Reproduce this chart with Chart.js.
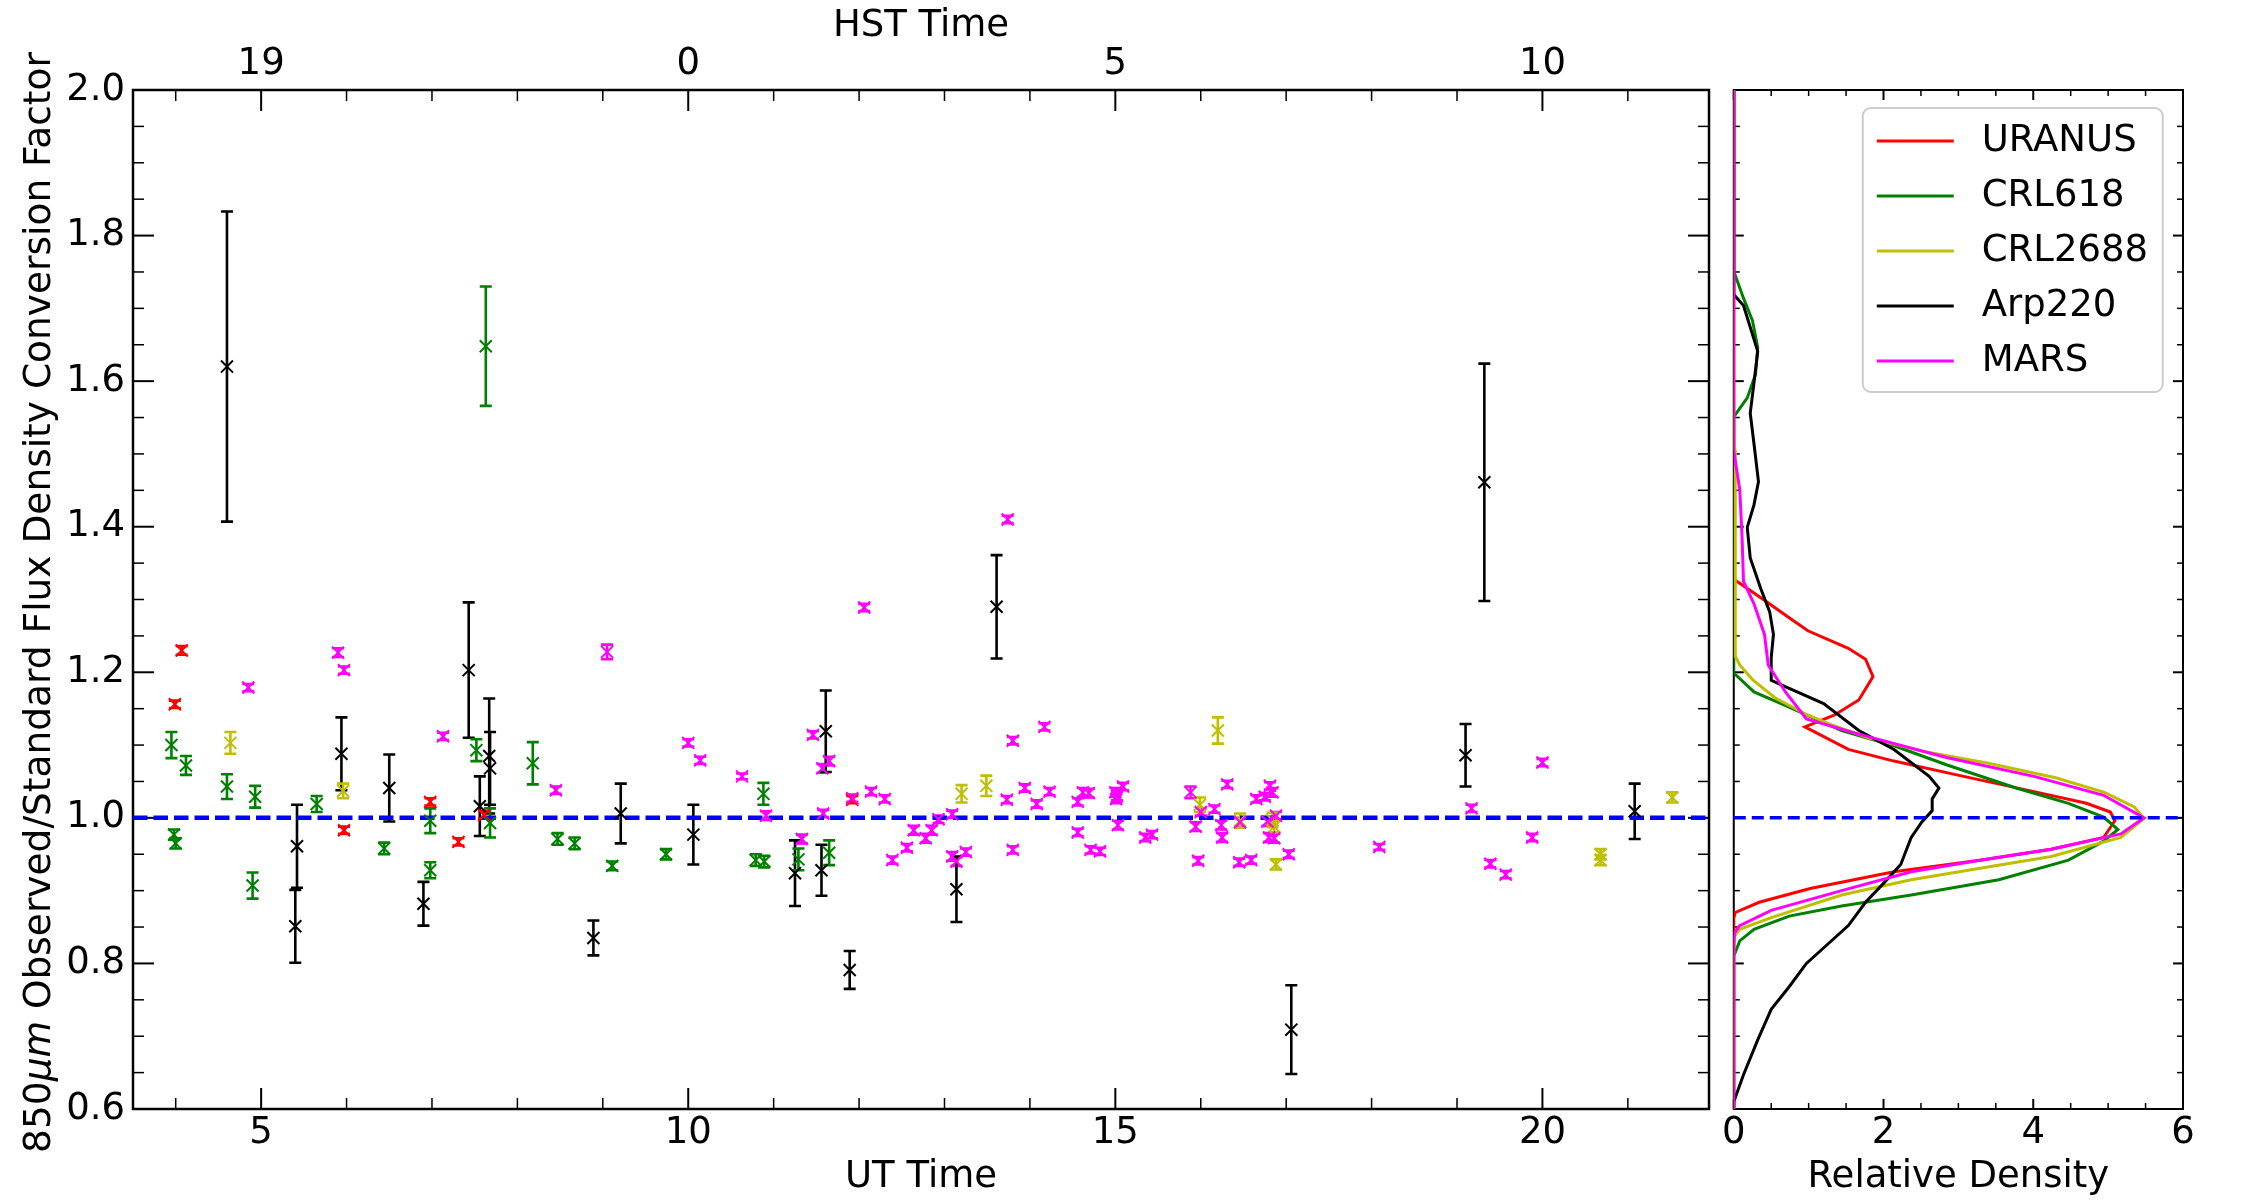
<!DOCTYPE html>
<html>
<head>
<meta charset="utf-8">
<script src="https://cdn.jsdelivr.net/npm/chart.js@4.4.1/dist/chart.umd.min.js"></script>
<style>
  body { margin: 0; background: #fff; }
  #wrap { position: relative; width: 2250px; height: 1200px; }
  canvas { position: absolute; top: 0; }
  #main { left: 0; }
  #kde { left: 1720px; }
</style>
</head>
<body>
<div id="wrap">
  <canvas id="main" width="1720" height="1200"></canvas>
  <canvas id="kde" width="530" height="1200"></canvas>
</div>
<script>
// --- observations: UT hour, observed/standard FCF, error ---
const uranusUT  = [3.99, 4.07, 5.97, 6.98, 7.31, 7.61, 11.92];
const uranusFCF = [1.156, 1.230, 0.983, 1.022, 0.967, 1.004, 1.025];
const uranusErr = [0.005, 0.006, 0.005, 0.005, 0.005, 0.005, 0.005];

const crl618UT  = [3.95, 3.98, 4.00, 4.12, 4.60, 4.90, 4.93, 5.65, 6.44, 6.98, 6.98, 7.52, 7.63, 7.68, 8.18, 8.47, 8.67, 9.11, 9.74, 10.79, 10.88, 10.89, 11.29, 11.65];
const crl618FCF = [1.100, 0.977, 0.965, 1.072, 1.043, 0.907, 1.029, 1.019, 0.958, 0.996, 0.928, 1.093, 1.648, 0.993, 1.075, 0.971, 0.965, 0.934, 0.950, 0.942, 1.033, 0.940, 0.943, 0.952];
const crl618Err = [0.018, 0.007, 0.007, 0.013, 0.017, 0.018, 0.015, 0.011, 0.008, 0.017, 0.011, 0.015, 0.082, 0.020, 0.029, 0.008, 0.008, 0.006, 0.007, 0.008, 0.015, 0.008, 0.015, 0.017];

const crl2688UT  = [4.64, 5.96, 13.20, 13.49, 15.99, 16.20, 16.46, 16.84, 16.86, 16.88, 20.68, 20.68, 21.52];
const crl2688FCF = [1.103, 1.037, 1.033, 1.044, 1.018, 1.120, 0.996, 0.997, 0.988, 0.936, 0.950, 0.942, 1.028];
const crl2688Err = [0.015, 0.010, 0.012, 0.014, 0.010, 0.018, 0.010, 0.010, 0.008, 0.007, 0.007, 0.007, 0.007];

const arp220UT  = [4.60, 5.40, 5.42, 5.94, 6.50, 6.90, 7.43, 7.56, 7.67, 7.68, 8.89, 9.21, 10.06, 11.25, 11.56, 11.61, 11.89, 13.14, 13.61, 17.06, 19.10, 19.32, 21.08];
const arp220FCF = [1.620, 0.851, 0.961, 1.088, 1.041, 0.882, 1.203, 1.016, 1.085, 1.068, 0.835, 1.006, 0.977, 0.924, 0.928, 1.119, 0.791, 0.902, 1.290, 0.709, 1.086, 1.461, 1.009];
const arp220Err = [0.213, 0.050, 0.057, 0.050, 0.046, 0.030, 0.093, 0.041, 0.079, 0.050, 0.024, 0.041, 0.041, 0.045, 0.035, 0.056, 0.026, 0.045, 0.071, 0.061, 0.043, 0.163, 0.038];

const marsUT  = [4.85, 5.90, 5.97, 7.13, 8.45, 9.05, 10.00, 10.14, 10.63, 10.91, 11.33, 11.46, 11.57, 11.65, 11.58, 11.92, 12.06, 12.14, 12.30, 12.39,
                 12.56, 12.64, 12.78, 12.85, 12.93, 13.09, 13.09, 13.14, 13.25, 13.73, 13.74, 13.80, 13.80, 13.94, 14.08, 14.17, 14.23, 14.56, 14.56, 14.62,
                 14.69, 14.71, 14.82, 15.00, 15.01, 15.02, 15.09, 15.03, 15.35, 15.43, 15.88, 15.94, 15.97, 16.00, 16.16, 16.24, 16.25, 16.31, 16.46, 16.45,
                 16.59, 16.65, 16.75, 16.81, 16.84, 16.78, 16.88, 16.80, 16.86, 17.03, 18.09, 19.17, 19.39, 19.57, 19.88, 20.00];
const marsFCF = [1.179, 1.227, 1.203, 1.112, 1.038, 1.228, 1.103, 1.079, 1.057, 1.003, 0.971, 1.114, 1.068, 1.078, 1.006, 1.027, 1.289, 1.036, 1.026, 0.942,
                 0.959, 0.983, 0.972, 0.983, 0.998, 1.005, 0.947, 0.940, 0.953, 1.025, 1.410, 1.106, 0.956, 1.041, 1.019, 1.125, 1.036, 1.022, 0.980, 1.035,
                 1.034, 0.956, 0.954, 1.035, 1.026, 1.030, 1.043, 0.990, 0.973, 0.977, 1.035, 0.988, 0.941, 1.008, 1.012, 0.990, 0.973, 1.046, 0.994, 0.939,
                 0.942, 1.026, 1.029, 1.044, 1.035, 0.995, 1.003, 0.973, 0.972, 0.950, 0.960, 1.013, 0.937, 0.922, 0.973, 1.076];
const marsErr = [0.005, 0.006, 0.005, 0.005, 0.005, 0.010, 0.005, 0.005, 0.004, 0.006, 0.006, 0.005, 0.006, 0.006, 0.005, 0.005, 0.005, 0.005, 0.005, 0.005,
                 0.005, 0.006, 0.006, 0.006, 0.005, 0.005, 0.006, 0.006, 0.005, 0.005, 0.005, 0.005, 0.005, 0.005, 0.005, 0.005, 0.005, 0.005, 0.005, 0.006,
                 0.006, 0.005, 0.005, 0.006, 0.006, 0.006, 0.005, 0.006, 0.005, 0.005, 0.008, 0.006, 0.005, 0.005, 0.005, 0.006, 0.006, 0.005, 0.006, 0.005,
                 0.005, 0.005, 0.005, 0.005, 0.006, 0.006, 0.005, 0.006, 0.006, 0.005, 0.004, 0.005, 0.005, 0.005, 0.005, 0.005];

// --- relative density of the FCF ratio per source (density, level) ---
const uranusKdeLevel = [0.6, 0.862, 0.870, 0.884, 0.903, 0.926, 0.942, 0.957, 0.973, 0.996, 1.008, 1.020, 1.036, 1.057, 1.078, 1.094, 1.125, 1.141, 1.162, 1.194, 1.218, 1.233, 1.257, 1.275, 1.299, 1.325, 1.328, 2.0];
const uranusKdeDens  = [0, 0, 0.02, 0.34, 1.02, 2.14, 3.31, 4.24, 4.94, 5.09, 5.03, 4.71, 4.01, 3.07, 2.14, 1.53, 0.95, 1.34, 1.67, 1.86, 1.76, 1.53, 0.99, 0.74, 0.41, 0.04, 0, 0];

const crl618KdeLevel = [0.6, 0.810, 0.831, 0.847, 0.865, 0.879, 0.894, 0.915, 0.942, 0.968, 0.984, 1.001, 1.020, 1.041, 1.073, 1.099, 1.120, 1.152, 1.173, 1.199, 1.551, 1.577, 1.609, 1.646, 1.683, 1.714, 1.751, 2.0];
const crl618KdeDens  = [0, 0, 0.08, 0.27, 0.74, 1.44, 2.37, 3.54, 4.47, 4.94, 5.13, 4.94, 4.47, 3.77, 2.84, 2.14, 1.44, 0.74, 0.27, 0, 0, 0.18, 0.29, 0.32, 0.25, 0.13, 0, 0];

const crl2688KdeLevel = [0.6, 0.836, 0.847, 0.863, 0.894, 0.915, 0.931, 0.947, 0.973, 0.999, 1.015, 1.035, 1.055, 1.075, 1.092, 1.110, 1.128, 1.142, 1.165, 1.190, 1.210, 1.222, 1.504, 1.514, 2.0];
const crl2688KdeDens  = [0, 0, 0.08, 0.5, 1.44, 2.37, 3.31, 4.24, 5.17, 5.48, 5.35, 4.95, 4.3, 3.4, 2.5, 1.8, 1.3, 0.97, 0.55, 0.25, 0.08, 0.02, 0.02, 0, 0];

const arp220KdeLevel = [0.6, 0.610, 0.647, 0.695, 0.737, 0.768, 0.800, 0.826, 0.852, 0.884, 0.910, 0.936, 0.973, 0.994, 1.010, 1.026, 1.041, 1.057, 1.094, 1.120, 1.157, 1.178, 1.189,
                        1.220, 1.252, 1.283, 1.315, 1.357, 1.399, 1.430, 1.462, 1.514, 1.556, 1.598, 1.641, 1.704, 1.719, 2.0];
const arp220KdeDens  = [0, 0, 0.13, 0.32, 0.50, 0.74, 0.97, 1.25, 1.53, 1.76, 2.00, 2.23, 2.37, 2.51, 2.65, 2.65, 2.74, 2.61, 2.14, 1.67, 1.20, 0.74, 0.50,
                        0.50, 0.53, 0.48, 0.36, 0.22, 0.18, 0.27, 0.33, 0.27, 0.22, 0.27, 0.32, 0.13, 0, 0];

const marsKdeLevel = [0.6, 0.821, 0.842, 0.852, 0.873, 0.900, 0.926, 0.942, 0.957, 0.978, 1.000, 1.031, 1.057, 1.083, 1.115, 1.136, 1.173, 1.210, 1.252, 1.294, 1.325, 1.388, 1.451, 1.504, 2.0];
const marsKdeDens  = [0, 0, 0.01, 0.08, 0.5, 1.44, 2.37, 3.31, 4.24, 5.17, 5.48, 4.94, 4.01, 2.84, 1.67, 0.97, 0.69, 0.46, 0.41, 0.27, 0.13, 0.11, 0.08, 0, 0];

const sourceNames  = ['URANUS', 'CRL618', 'CRL2688', 'Arp220', 'MARS'];
const sourceColors = ['#ff0000', '#008000', '#bfbf00', '#000000', '#ff00ff'];

const utRange = [3.5, 21.95];
const fcfRange = [0.6, 2.0];
const densRange = [0, 6];
const refLevel = 1.0;
const hstOffset = -10;

Chart.defaults.font.family = '"DejaVu Sans"';
Chart.defaults.font.size = 37;
Chart.defaults.color = '#000';

const isMult = (v, step) => Math.abs(v / step - Math.round(v / step)) < 1e-6;

function pts(xs, ys, es) {
  return xs.map((x, i) => ({ x: x, y: ys[i], e: es ? es[i] : 0 }));
}

// inward ticks + frame, matplotlib style
function frameTicks(spec) {
  return {
    id: 'frameTicks',
    beforeDatasetsDraw(chart) {
      const ctx = chart.ctx, a = chart.chartArea;
      ctx.save();
      ctx.strokeStyle = '#000';
      Object.values(chart.scales).forEach(scale => {
        const st = spec.steps[scale.id];
        if (!st) return;
        scale.ticks.forEach(t => {
          if (!isMult(t.value, st[0])) return;
          const major = isMult(t.value, st[1]);
          const len = major ? spec.major : spec.minor;
          const p = scale.getPixelForValue(t.value);
          ctx.lineWidth = major ? 2 : 1.5;
          ctx.beginPath();
          if (scale.position === 'bottom') { ctx.moveTo(p, a.bottom); ctx.lineTo(p, a.bottom - len); }
          else if (scale.position === 'top') { ctx.moveTo(p, a.top); ctx.lineTo(p, a.top + len); }
          else if (scale.position === 'left') { ctx.moveTo(a.left, p); ctx.lineTo(a.left + len, p); }
          else { ctx.moveTo(a.right, p); ctx.lineTo(a.right - len, p); }
          ctx.stroke();
        });
      });
      ctx.lineWidth = spec.frame;
      ctx.strokeRect(a.left, a.top, a.right - a.left, a.bottom - a.top);
      ctx.restore();
    }
  };
}

const errorBars = {
  id: 'errorBars',
  beforeDatasetsDraw(chart) {
    const ctx = chart.ctx, xs = chart.scales.x, ys = chart.scales.y;
    ctx.save();
    ctx.lineWidth = 2.6;
    chart.data.datasets.slice().reverse().forEach(ds => {
      if (!ds.errorBars) return;
      ctx.strokeStyle = ds.borderColor;
      ds.data.forEach(p => {
        const x = xs.getPixelForValue(p.x);
        const y1 = ys.getPixelForValue(p.y - p.e), y2 = ys.getPixelForValue(p.y + p.e);
        ctx.beginPath();
        ctx.moveTo(x, y1); ctx.lineTo(x, y2);
        ctx.moveTo(x - 6, y1); ctx.lineTo(x + 6, y1);
        ctx.moveTo(x - 6, y2); ctx.lineTo(x + 6, y2);
        ctx.stroke();
      });
    });
    ctx.restore();
  }
};

const yTitle = {
  id: 'yTitle',
  afterDraw(chart) {
    const ctx = chart.ctx, a = chart.chartArea;
    const pieces = [['850', ''], ['\u03bcm', 'italic '], [' Observed/Standard Flux Density Conversion Factor', '']];
    ctx.save();
    ctx.translate(40, (a.top + a.bottom) / 2 + 3);
    ctx.rotate(-Math.PI / 2);
    ctx.fillStyle = '#000';
    ctx.textBaseline = 'middle';
    ctx.textAlign = 'left';
    const widths = pieces.map(p => { ctx.font = p[1] + '37.5px "DejaVu Sans"'; return ctx.measureText(p[0]).width; });
    let x = -widths.reduce((s, w) => s + w, 0) / 2;
    pieces.forEach((p, i) => {
      ctx.font = p[1] + '37.5px "DejaVu Sans"';
      ctx.fillText(p[0], x, 0);
      x += widths[i];
    });
    ctx.restore();
  }
};

const kdeLegend = {
  id: 'kdeLegend',
  afterDraw(chart) {
    const ctx = chart.ctx, a = chart.chartArea;
    const bx = a.left + 129, by = a.top + 18, bw = 300, bh = 284;
    ctx.save();
    ctx.beginPath();
    ctx.roundRect(bx, by, bw, bh, 8);
    ctx.fillStyle = 'rgba(255,255,255,0.8)';
    ctx.fill();
    ctx.strokeStyle = '#cccccc';
    ctx.lineWidth = 2;
    ctx.stroke();
    ctx.font = '37px "DejaVu Sans"';
    ctx.textBaseline = 'middle';
    ctx.fillStyle = '#000';
    sourceNames.forEach((name, i) => {
      const ds = chart.data.datasets.find(d => d.label === name);
      const y = by + 33 + i * 55;
      ctx.strokeStyle = ds.borderColor;
      ctx.lineWidth = 3;
      ctx.beginPath();
      ctx.moveTo(bx + 14, y); ctx.lineTo(bx + 91, y);
      ctx.stroke();
      ctx.fillText(name, bx + 119, y);
    });
    ctx.restore();
  }
};

function obsSet(i, xs, ys, es) {
  return {
    label: sourceNames[i], data: pts(xs, ys, es), errorBars: true,
    borderColor: sourceColors[i], backgroundColor: sourceColors[i],
    pointStyle: 'crossRot', pointRadius: 8.5, pointBorderWidth: 2, showLine: false,
    order: sourceNames.length - 1 - i
  };
}

function kdeSet(i, dens, lev) {
  return {
    label: sourceNames[i], data: pts(dens, lev),
    borderColor: sourceColors[i], backgroundColor: sourceColors[i],
    borderWidth: 3, pointRadius: 0, showLine: true, tension: 0,
    order: sourceNames.length - 1 - i
  };
}

// ticks at every multiple of step inside the range
function stepTicks(range, step) {
  return s => {
    const out = [];
    for (let k = Math.ceil(range[0] / step - 1e-9); k * step <= range[1] + 1e-9; k++) {
      out.push({ value: Math.round(k * step * 1e6) / 1e6 });
    }
    s.ticks = out;
  };
}

function linAxis(pos, range, step, label, size, pad, extra) {
  const horiz = pos === 'top' || pos === 'bottom';
  return Object.assign({
    type: 'linear', position: pos, min: range[0], max: range[1], bounds: 'data',
    grid: { display: false, drawTicks: false }, border: { display: false },
    ticks: { autoSkip: false, maxRotation: 0, display: label !== null, padding: pad,
             callback: label || (() => '') },
    afterBuildTicks: stepTicks(range, step),
    afterFit: s => { if (horiz) s.height = size; else s.width = size; }
  }, extra || {});
}

new Chart(document.getElementById('main'), {
  type: 'scatter',
  data: {
    datasets: [
      obsSet(0, uranusUT, uranusFCF, uranusErr),
      obsSet(1, crl618UT, crl618FCF, crl618Err),
      obsSet(2, crl2688UT, crl2688FCF, crl2688Err),
      obsSet(3, arp220UT, arp220FCF, arp220Err),
      obsSet(4, marsUT, marsFCF, marsErr),
      { label: 'ref', data: [{ x: utRange[0], y: refLevel }, { x: utRange[1], y: refLevel }], showLine: true,
        borderColor: '#0000ff', borderWidth: 4.5, borderDash: [14.5, 6], pointRadius: 0, order: 10 }
    ]
  },
  options: {
    responsive: false, animation: false, events: [],
    layout: { padding: 0 },
    plugins: { legend: { display: false }, tooltip: { enabled: false } },
    scales: {
      x: linAxis('bottom', utRange, 1, v => isMult(v, 5) ? String(v) : '', 91, 2,
        { title: { display: true, text: 'UT Time', padding: { top: 0, bottom: 0 } } }),
      x2: linAxis('top', utRange, 1, v => isMult(v, 5) ? String((v + hstOffset + 24) % 24) : '', 90, 3,
        { title: { display: true, text: 'HST Time', padding: { top: 4, bottom: 0 } } }),
      y: linAxis('left', fcfRange, 0.05, v => isMult(v, 0.2) ? v.toFixed(1) : '', 133, 8),
      y2: linAxis('right', fcfRange, 0.05, null, 11, 0)
    }
  },
  plugins: [frameTicks({ steps: { x: [1, 5], x2: [1, 5], y: [0.05, 0.2], y2: [0.05, 0.2] }, major: 21, minor: 11, frame: 2.5 }),
            errorBars, yTitle]
});

new Chart(document.getElementById('kde'), {
  type: 'scatter',
  data: {
    datasets: [
      kdeSet(0, uranusKdeDens, uranusKdeLevel),
      kdeSet(1, crl618KdeDens, crl618KdeLevel),
      kdeSet(2, crl2688KdeDens, crl2688KdeLevel),
      kdeSet(3, arp220KdeDens, arp220KdeLevel),
      kdeSet(4, marsKdeDens, marsKdeLevel),
      { label: 'ref', data: [{ x: densRange[0], y: refLevel }, { x: densRange[1], y: refLevel }], showLine: true,
        borderColor: '#0000ff', borderWidth: 3.5, borderDash: [12, 6], pointRadius: 0, order: -1 }
    ]
  },
  options: {
    responsive: false, animation: false, events: [],
    layout: { padding: 0 },
    plugins: { legend: { display: false }, tooltip: { enabled: false } },
    scales: {
      x: linAxis('bottom', densRange, 0.5, v => isMult(v, 2) ? String(v) : '', 91, 2,
        { title: { display: true, text: 'Relative Density', padding: { top: 0, bottom: 0 } } }),
      x2: linAxis('top', densRange, 0.5, null, 90, 0),
      y: linAxis('left', fcfRange, 0.05, null, 12, 0),
      y2: linAxis('right', fcfRange, 0.05, null, 67, 0)
    }
  },
  plugins: [frameTicks({ steps: { x: [0.5, 2], x2: [0.5, 2], y: [0.05, 0.2], y2: [0.05, 0.2] }, major: 10, minor: 6, frame: 2 }),
            kdeLegend]
});
</script>
</body>
</html>
